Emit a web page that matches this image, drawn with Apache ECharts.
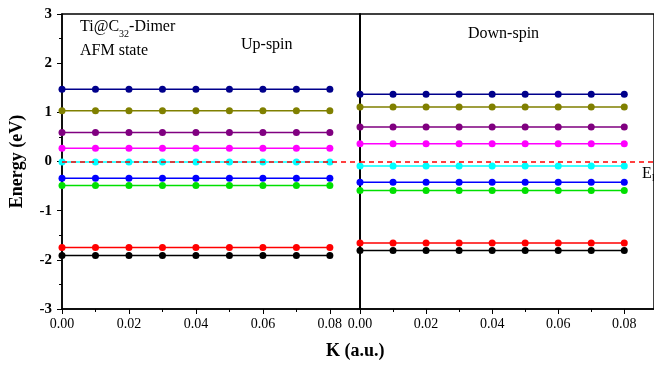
<!DOCTYPE html>
<html>
<head>
<meta charset="utf-8">
<script src="https://cdn.jsdelivr.net/npm/echarts@6/dist/echarts.min.js"></script>
<style>
  html, body { margin: 0; padding: 0; background: #fff; }
  #main { width: 654px; height: 369px; }
</style>
</head>
<body>
<div id="main"></div>
<script>
// k points along each panel
var kPoints = [0.00, 0.01, 0.02, 0.03, 0.04, 0.05, 0.06, 0.07, 0.08];
var kTicks = ['0.00', '0.02', '0.04', '0.06', '0.08'];
var energyTicks = [-3, -2, -1, 0, 1, 2, 3];

// band energies (eV), top to bottom, flat over k
var bandNames = ['b1', 'b2', 'b3', 'b4', 'b5', 'b6', 'b7', 'b8', 'b9'];
var upLevels = [1.47, 1.03, 0.59, 0.27, -0.01, -0.34, -0.49, -1.75, -1.91];
var downLevels = [1.37, 1.11, 0.70, 0.36, -0.09, -0.42, -0.59, -1.66, -1.81];
var bandColors = ['#00008b', '#808000', '#800080', '#ff00ff', '#00ffff', '#0000ff', '#00e000', '#ff0000', '#000000'];

var font = '"Liberation Serif", "Times New Roman", serif';

var chart = echarts.init(document.getElementById('main'));

function makeSeries(levels, idx) {
  return levels.map(function (e, i) {
    return {
      name: bandNames[i],
      type: 'line',
      xAxisIndex: idx,
      yAxisIndex: idx,
      data: kPoints.map(function (k) { return [k, e]; }),
      symbol: 'circle',
      symbolSize: 7,
      showSymbol: true,
      lineStyle: { color: bandColors[i], width: 1.5 },
      itemStyle: { color: bandColors[i], borderColor: bandColors[i], borderWidth: 0 },
      z: 3,
      animation: false
    };
  });
}

var series = makeSeries(upLevels, 0).concat(makeSeries(downLevels, 1));
// Fermi level
[0, 1].forEach(function (idx) {
  series.push({
    type: 'line',
    xAxisIndex: idx,
    yAxisIndex: idx,
    data: [],
    markLine: {
      silent: true,
      symbol: 'none',
      label: { show: false },
      lineStyle: { color: '#ff0000', type: [5, 4], width: 1.5 },
      data: [{ yAxis: 0 }]
    },
    z: 2
  });
});

function xAx(idx) {
  return {
    type: 'value',
    gridIndex: idx,
    min: 0,
    max: 0.089,
    interval: 0.02,
    axisLine: { show: true, onZero: false, lineStyle: { color: '#000', width: 1.5 } },
    axisTick: { show: true, length: 5, lineStyle: { color: '#000' } },
    minorTick: { show: true, splitNumber: 2, length: 3, lineStyle: { color: '#000' } },
    splitLine: { show: false },
    axisLabel: {
      showMaxLabel: false,
      color: '#000',
      fontFamily: font,
      fontSize: 14,
      margin: 8,
      formatter: function (v) {
        var s = v.toFixed(2);
        return kTicks.indexOf(s) >= 0 ? s : '';
      }
    }
  };
}

function yAx(idx) {
  var left = idx === 0;
  return {
    type: 'value',
    gridIndex: idx,
    min: energyTicks[0],
    max: energyTicks[energyTicks.length - 1],
    interval: 1,
    name: left ? 'Energy (eV)' : '',
    nameLocation: 'middle',
    nameGap: 36,
    nameTextStyle: { color: '#000', fontFamily: font, fontSize: 18, fontWeight: 'bold' },
    axisLine: { show: true, onZero: false, lineStyle: { color: '#000', width: 1.5 } },
    axisTick: { show: left, length: 5, lineStyle: { color: '#000' } },
    minorTick: { show: left, splitNumber: 2, length: 3, lineStyle: { color: '#000' } },
    splitLine: { show: false },
    axisLabel: {
      show: left,
      color: '#000',
      fontFamily: font,
      fontSize: 15,
      fontWeight: 'bold',
      margin: 10
    }
  };
}

chart.setOption({
  backgroundColor: '#fff',
  animation: false,
  grid: [
    { left: 62, top: 14, width: 298, height: 295, show: true, borderColor: '#000', borderWidth: 1.5, backgroundColor: 'transparent' },
    { left: 360, top: 14, width: 298, height: 295, show: true, borderColor: '#000', borderWidth: 1.5, backgroundColor: 'transparent' }
  ],
  xAxis: [xAx(0), xAx(1)],
  yAxis: [yAx(0), yAx(1)],
  series: series,
  graphic: [
    {
      type: 'text', left: 80, top: 19,
      style: {
        text: '{n|Ti@C}{s|32}{n|-Dimer}\n{n|AFM state}',
        rich: {
          n: { fontFamily: font, fontSize: 16, fill: '#000', lineHeight: 24 },
          s: { fontFamily: font, fontSize: 10, fill: '#000', verticalAlign: 'bottom', padding: [8, 0, 0, 0] }
        }
      }
    },
    {
      type: 'text', left: 241, top: 37,
      style: { text: 'Up-spin', fontFamily: font, fontSize: 16, fill: '#000' }
    },
    {
      type: 'text', left: 468, top: 26,
      style: { text: 'Down-spin', fontFamily: font, fontSize: 16, fill: '#000' }
    },
    {
      type: 'text', left: 642, top: 166,
      style: {
        text: '{n|E}{s|F}',
        rich: {
          n: { fontFamily: font, fontSize: 16, fill: '#000' },
          s: { fontFamily: font, fontSize: 10, fill: '#000', padding: [8, 0, 0, 0] }
        }
      }
    },
    {
      type: 'text', left: 326, top: 342,
      style: { text: 'K (a.u.)', fontFamily: font, fontSize: 18, fontWeight: 'bold', fill: '#000' }
    }
  ]
});
</script>
</body>
</html>
